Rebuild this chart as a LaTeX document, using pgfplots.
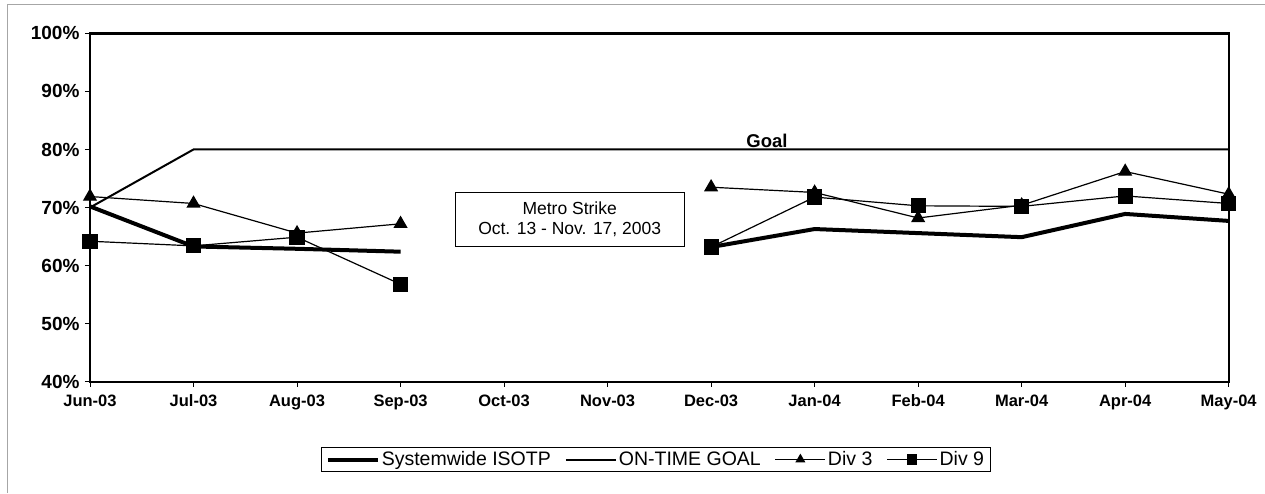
\documentclass[border=0pt]{standalone}
\usepackage{pgfplots}
\pgfplotsset{compat=1.18}
\usepackage{fontspec}
\setmainfont{Liberation Sans}
\begin{document}
\begin{tikzpicture}[x=1pt,y=1pt]
\path[use as bounding box] (0,0) rectangle (1265,493);
\draw[gray!70, line width=1pt] (7,0) -- (7,488) -- (1265,488);
\begin{axis}[
  at={(90pt,111.2pt)}, anchor=south west,
  scale only axis, width=1138.7pt, height=348.5pt,
  xmin=0, xmax=11, ymin=40, ymax=100,
  xtick={0,...,11},
  xticklabels={Jun-03,Jul-03,Aug-03,Sep-03,Oct-03,Nov-03,Dec-03,Jan-04,Feb-04,Mar-04,Apr-04,May-04},
  ytick={40,50,...,100},
  yticklabels={40\%,50\%,60\%,70\%,80\%,90\%,100\%},
  tick pos=left, tick align=outside, major tick length=5pt,
  tick style={black, line width=1pt},
  axis line style={black, line width=2.4pt},
  xticklabel style={font=\fontsize{16.5}{19}\selectfont\bfseries, text height=12pt, text depth=3.5pt, yshift=-4pt},
  yticklabel style={font=\fontsize{19}{22}\selectfont\bfseries, xshift=-2pt},
  unbounded coords=jump,
  clip=false,
  legend columns=4,
  legend style={at={(0.497,-0.223)}, anchor=center, draw=black, line width=0.8pt,
    font=\fontsize{19.5}{23}\selectfont, inner xsep=4pt, inner ysep=2pt,
    /tikz/every even column/.append style={column sep=12pt}},
  legend image code/.code={\draw[mark repeat=2,mark phase=2,#1] plot coordinates {(0pt,0pt) (25pt,0pt) (50pt,0pt)};},
  legend image post style={mark size=4.7pt},
]
\addplot[black, line width=4pt, no markers] coordinates {
 (0,70.2) (1,63.3) (2,62.9) (3,62.4) (4,nan) (5,nan)
 (6,63.2) (7,66.3) (8,65.6) (9,64.9) (10,68.9) (11,67.7)};
\addlegendentry{Systemwide ISOTP}
\addplot[black, line width=2pt, no markers] coordinates {
 (0,70) (1,80) (2,80) (3,80) (4,80) (5,80) (6,80) (7,80) (8,80) (9,80) (10,80) (11,80)};
\addlegendentry{ON-TIME GOAL}
\addplot[black, line width=1.2pt, mark=triangle*, mark size=7pt] coordinates {
 (0,71.9) (1,70.7) (2,65.6) (3,67.2) (4,nan) (5,nan)
 (6,73.5) (7,72.6) (8,68.2) (9,70.4) (10,76.2) (11,72.3)};
\addlegendentry{Div 3}
\addplot[black, line width=1.2pt, mark=square*, mark size=7pt] coordinates {
 (0,64.2) (1,63.4) (2,64.9) (3,56.8) (4,nan) (5,nan)
 (6,63.2) (7,71.8) (8,70.3) (9,70.2) (10,72.0) (11,70.7)};
\addlegendentry{Div 9}
\node[draw, line width=1.2pt, fill=white, align=center, minimum width=229pt, minimum height=54pt,
  font=\fontsize{17.5}{20}\selectfont] at (axis cs:4.634,67.95) {Metro Strike\\Oct. 13 - Nov. 17, 2003};
\node[anchor=south, font=\fontsize{18.5}{21}\selectfont\bfseries, inner sep=1.5pt] at (axis cs:6.54,80) {Goal};
\end{axis}
\end{tikzpicture}
\end{document}
